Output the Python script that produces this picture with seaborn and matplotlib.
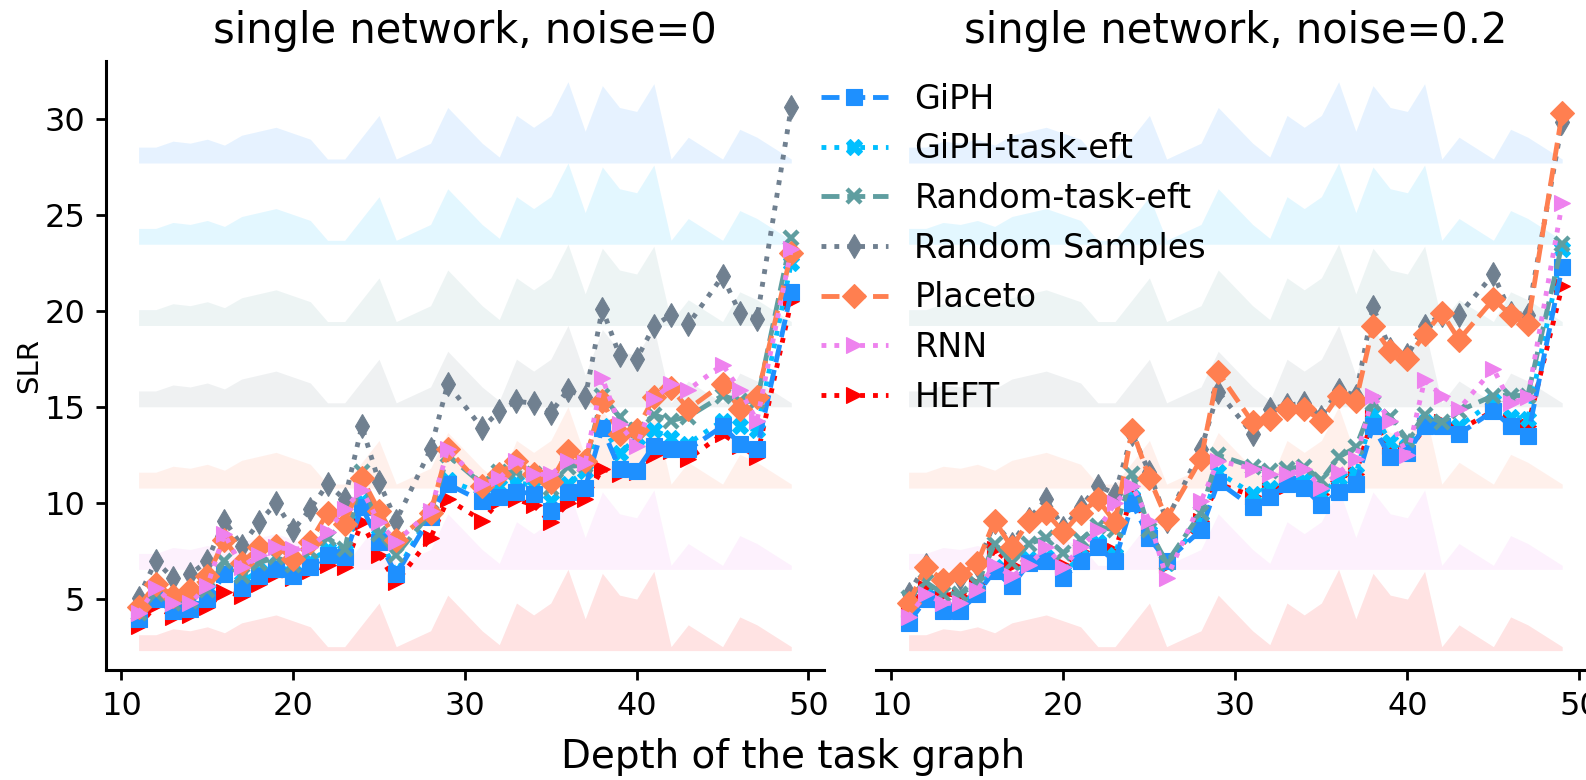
import numpy as np
import pandas as pd
import matplotlib
matplotlib.use("Agg")
import matplotlib.pyplot as plt
import seaborn as sns

# ---------------- data ----------------
methods = ["GiPH", "GiPH-task-eft", "Random-task-eft", "Random Samples",
           "Placeto", "RNN", "HEFT"]
colors = ["#1E90FF", "#00BFFF", "#5F9EA0", "#708090", "#FF7F50", "#EE82EE", "#FF0000"]
marker_list = ["s", "X", "x", "d", "D", ">", ">"]
dash_list = [(3.7, 1.6), (1, 1.65), (3.7, 1.6), (1, 1.65), (3.7, 1.6), (1, 1.65), (1, 1.65)]
draw_order = [2.3, 2.2, 2.35, 2.1, 2.4, 2.5, 2.0]

depths = [11, 12, 13, 14, 15, 16, 17, 18, 19, 20, 21, 22, 23, 24, 25, 26, 28, 29,
          31, 32, 33, 34, 35, 36, 37, 38, 39, 40, 41, 42, 43, 45, 46, 47, 49]

# number of task graphs per depth (background ridges)
graph_count = [8, 8, 11, 10, 12, 9, 14, 16, 18, 15, 12, 2, 2, 13, 24, 2, 10, 28,
               10, 3, 24, 18, 24, 41, 16, 39, 28, 26, 40, 2, 13, 2, 17, 13, 2]

# noise = 0
giph_n0 = [4.0, 5.0, 4.4, 4.5, 5.0, 6.3, 5.6, 6.2, 6.6, 6.2, 6.7, 7.3, 7.2, 9.8, 8.0, 6.3, 9.3, 11.0,
           10.1, 10.3, 10.6, 10.5, 9.6, 10.6, 10.8, 13.9, 11.8, 11.7, 13.0, 12.8, 12.8, 14.0, 13.1, 12.8, 21.0]
giph_eft_n0 = [4.2, 5.1, 4.6, 4.6, 5.2, 6.5, 5.9, 6.5, 6.8, 6.4, 7.0, 7.6, 7.5, 10.1, 8.3, 6.4, 9.5, 11.2,
               10.5, 10.9, 11.1, 10.9, 10.1, 11.0, 11.7, 14.0, 12.6, 13.4, 13.8, 13.4, 13.1, 14.3, 14.0, 13.8, 22.5]
rand_eft_n0 = [4.3, 5.3, 4.8, 4.9, 5.5, 7.0, 6.2, 6.9, 7.2, 6.8, 7.5, 8.2, 7.6, 11.6, 8.4, 7.3, 9.5, 12.5,
               11.0, 11.6, 11.6, 11.5, 10.8, 11.9, 12.0, 15.6, 14.5, 13.8, 14.6, 14.3, 14.5, 15.6, 15.3, 15.3, 23.8]
rand_samp_n0 = [5.1, 7.0, 6.1, 6.3, 7.0, 9.1, 7.8, 9.0, 10.0, 8.6, 9.7, 11.0, 10.2, 14.0, 11.1, 9.1, 12.8, 16.2,
                13.9, 14.8, 15.3, 15.2, 14.7, 15.9, 15.5, 20.1, 17.7, 17.5, 19.2, 19.8, 19.3, 21.8, 19.9, 19.6, 30.6]
placeto_n0 = [4.6, 5.8, 5.2, 5.5, 6.2, 8.1, 6.9, 7.7, 7.8, 7.1, 8.0, 9.5, 8.9, 11.3, 9.6, 8.1, 9.5, 12.8,
              10.9, 11.5, 12.2, 11.5, 11.1, 12.7, 12.2, 15.3, 13.6, 13.8, 15.5, 16.0, 14.9, 16.2, 14.9, 15.5, 23.0]
rnn_n0 = [4.3, 5.6, 4.8, 4.8, 5.7, 8.4, 6.7, 7.3, 7.7, 7.6, 7.7, 8.5, 9.7, 10.7, 9.0, 8.0, 9.6, 12.8,
          11.0, 11.3, 12.2, 11.5, 11.5, 12.2, 12.1, 16.5, 14.1, 13.0, 15.4, 16.2, 15.9, 17.2, 15.9, 14.3, 23.2]
heft_n0 = [3.6, 4.7, 4.1, 4.2, 4.6, 5.4, 5.2, 5.8, 6.3, 6.1, 6.5, 6.8, 6.7, 9.0, 7.3, 5.9, 8.2, 10.2,
           9.1, 10.1, 10.2, 9.9, 9.0, 10.0, 10.2, 11.8, 11.5, 11.6, 12.5, 12.7, 12.3, 13.6, 13.0, 12.4, 20.5]

# noise = 0.2
giph_n2 = [3.8, 5.0, 4.4, 4.4, 5.3, 6.5, 5.7, 6.9, 7.0, 6.1, 7.0, 7.7, 7.0, 10.0, 8.2, 7.0, 8.6, 11.1,
           9.8, 10.3, 11.0, 10.8, 9.9, 10.6, 11.0, 14.0, 12.4, 12.6, 14.0, 14.0, 13.6, 14.8, 14.0, 13.5, 22.3]
giph_eft_n2 = [4.0, 5.2, 4.6, 4.6, 5.5, 6.7, 6.0, 7.1, 7.2, 6.4, 7.2, 8.0, 7.3, 10.3, 8.5, 6.9, 9.0, 11.6,
               10.5, 10.8, 11.4, 11.2, 10.5, 11.3, 11.5, 14.7, 13.2, 13.0, 14.2, 14.1, 14.0, 15.3, 14.5, 14.4, 23.2]
rand_eft_n2 = [5.1, 5.9, 5.3, 5.3, 5.8, 7.9, 6.9, 7.9, 8.2, 7.4, 8.1, 8.8, 8.6, 11.5, 8.6, 6.9, 9.5, 12.5,
               11.9, 11.7, 11.8, 11.9, 11.2, 12.4, 12.9, 15.2, 14.5, 13.3, 14.6, 14.2, 14.8, 15.6, 15.6, 15.6, 23.5]
rand_samp_n2 = [5.3, 6.8, 5.9, 6.1, 6.8, 9.0, 7.9, 9.2, 10.2, 8.7, 9.8, 10.9, 10.5, 13.6, 11.6, 9.1, 12.8, 15.8,
                13.6, 14.9, 15.1, 15.2, 14.5, 15.9, 15.6, 20.2, 18.0, 17.7, 19.2, 19.8, 19.8, 21.9, 19.9, 19.8, 29.8]
placeto_n2 = [4.8, 6.7, 6.0, 6.3, 6.9, 9.1, 7.7, 9.1, 9.5, 8.5, 9.5, 10.2, 9.0, 13.8, 11.3, 9.2, 12.3, 16.8,
              14.2, 14.4, 14.9, 14.9, 14.3, 15.6, 15.3, 19.2, 17.9, 17.5, 18.8, 19.9, 18.5, 20.6, 19.8, 19.3, 30.3]
rnn_n2 = [4.1, 5.3, 4.8, 4.8, 5.5, 6.8, 6.2, 6.8, 7.7, 6.7, 7.7, 8.6, 10.0, 10.9, 9.1, 6.1, 10.1, 12.2,
          11.8, 11.5, 11.5, 11.8, 10.8, 11.6, 12.3, 15.6, 14.3, 12.5, 16.4, 15.6, 14.9, 17.0, 15.2, 15.5, 25.6]
heft_n2 = [4.5, 5.6, 5.3, 5.2, 5.8, 7.6, 6.8, 7.0, 7.2, 6.8, 7.5, 7.9, 7.5, 10.5, 8.6, 6.8, 9.1, 11.0,
           10.4, 10.7, 10.9, 11.0, 10.5, 11.4, 11.5, 14.5, 13.0, 12.7, 13.9, 14.2, 13.8, 14.8, 14.2, 14.0, 21.3]

titles = ["single network, noise=0", "single network, noise=0.2"]
series_n0 = [giph_n0, giph_eft_n0, rand_eft_n0, rand_samp_n0, placeto_n0, rnn_n0, heft_n0]
series_n2 = [giph_n2, giph_eft_n2, rand_eft_n2, rand_samp_n2, placeto_n2, rnn_n2, heft_n2]


def long_frame(series):
    rows = []
    for m, vals in zip(methods, series):
        for d, v in zip(depths, vals):
            rows.append((d, v, m))
    return pd.DataFrame(rows, columns=["depth", "SLR", "method"])


# ---------------- style ----------------
sns.set_style("ticks")
plt.rcParams["font.family"] = ["DejaVu Sans"]
for key in ["text.color", "axes.labelcolor", "xtick.color", "ytick.color", "axes.edgecolor"]:
    plt.rcParams[key] = "black"

ridge_base = 2.34
ridge_step = 4.225

fig = plt.figure(figsize=(15.86, 7.8), dpi=100)
ax1 = fig.add_axes([0.0668, 0.141, 0.4527, 0.781])
ax2 = fig.add_axes([0.5523, 0.141, 0.4533, 0.781], sharey=ax1)

palette = dict(zip(methods, colors))
# seaborn cannot mix filled / line-art markers in one mapping: use a filled
# placeholder and switch the line-art marker afterwards
mk = {m: ("X" if mm == "x" else mm) for m, mm in zip(methods, marker_list)}
ds = dict(zip(methods, dash_list))
hexcols = [matplotlib.colors.to_hex(c) for c in colors]

heights = np.array(graph_count, dtype=float) * ridge_step / max(graph_count)

for ax, series, title in zip([ax1, ax2], [series_n0, series_n2], titles):
    for i, c in enumerate(colors):
        base = ridge_base + (len(methods) - 1 - i) * ridge_step
        ax.fill_between(depths, base, base + heights, color=c, alpha=0.11,
                        linewidth=0, zorder=0.5)
    df = long_frame(series)
    sns.lineplot(data=df, x="depth", y="SLR", hue="method", style="method",
                 hue_order=methods, style_order=methods, palette=palette,
                 markers=mk, dashes=ds, errorbar=None, linewidth=3.5,
                 markersize=12, ax=ax, legend=False)
    for line in ax.lines:
        col = matplotlib.colors.to_hex(line.get_color())
        line.set_markeredgecolor(col)
        if col in hexcols:
            k = hexcols.index(col)
            line.set_zorder(draw_order[k])
            if marker_list[k] == "x":
                line.set_marker("x")
                line.set_markeredgewidth(3.2)
                line.set_markersize(10.5)
            else:
                line.set_markeredgewidth(0.8)
    ax.set_title(title, fontsize=30, pad=13)
    ax.set_xlim(9.1, 50.9)
    ax.set_xticks([10, 20, 30, 40, 50])
    ax.set_xlabel("")
    ax.set_ylabel("")
    ax.tick_params(axis="both", labelsize=23, length=7, width=2, color="black")
    ax.tick_params(axis="x", pad=8)
    ax.tick_params(axis="y", pad=8)
    for s in ["top", "right"]:
        ax.spines[s].set_visible(False)
    for s in ["left", "bottom"]:
        ax.spines[s].set_linewidth(2.2)
        ax.spines[s].set_color("black")

ax1.set_ylim(1.33, 33.0)
ax1.set_yticks([5, 10, 15, 20, 25, 30])
ax1.set_ylabel("SLR", fontsize=21)
ax1.yaxis.set_label_coords(-0.087, 0.5)
ax2.spines["left"].set_visible(False)
ax2.tick_params(axis="y", left=False, labelleft=False)

fig.text(0.5, 0.0154, "Depth of the task graph", ha="center", va="baseline", fontsize=28)

handles = []
for m in methods:
    k = methods.index(m)
    for line in ax1.lines:
        if matplotlib.colors.to_hex(line.get_color()) == hexcols[k]:
            handles.append(line)
            break
fig.legend(handles, methods, loc="upper left", bbox_to_anchor=(0.4987, 0.9325),
           frameon=False, fontsize=24, labelspacing=0.5, handlelength=2.0,
           borderpad=0.4)

fig.savefig("out.png", dpi=100)
